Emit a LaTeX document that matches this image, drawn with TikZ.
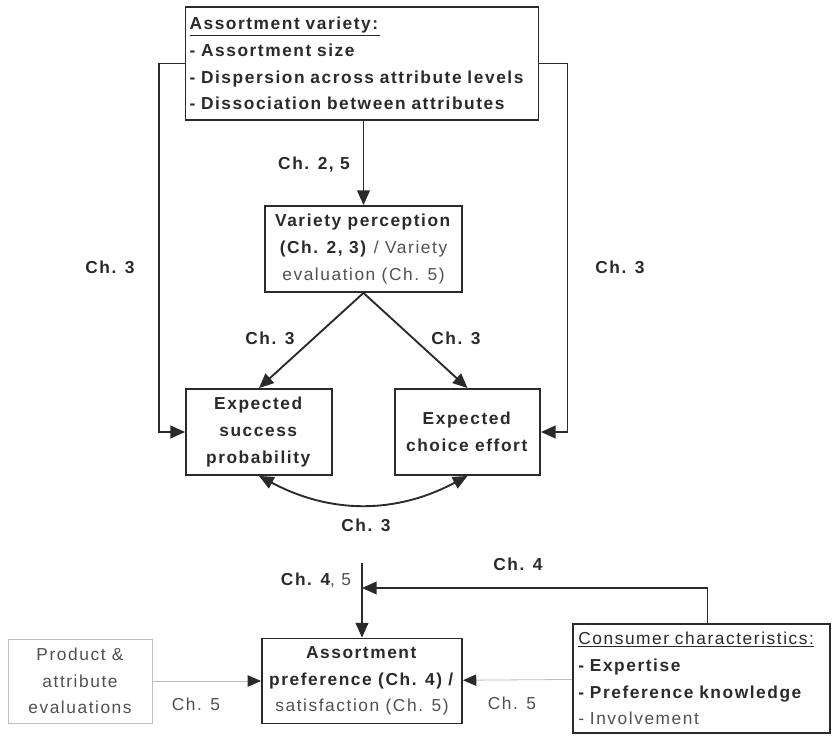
\documentclass[tikz,border=0pt]{standalone}
\usepackage{fontspec}
\setmainfont[LetterSpace=9]{Liberation Sans}
\usetikzlibrary{arrows.meta}
\definecolor{ink}{HTML}{2A2A2A}
\definecolor{soft}{HTML}{505050}
\definecolor{faint}{HTML}{BDBDBD}
\newcommand\lite[1]{\textcolor{soft}{\mdseries #1}}

\begin{document}
\begin{tikzpicture}[x=0.75pt,y=-0.75pt,
	every node/.style={text=ink,font=\fontsize{13pt}{20pt}\selectfont},
	box/.style={draw=ink,line width=1.4pt,align=center,inner sep=3pt},
	greybox/.style={draw=faint,line width=0.6pt,align=center,text=soft},
	arr/.style={draw=ink,line width=1.4pt,-{Triangle[length=11pt,width=9.5pt]}},
	thinarr/.style={draw=faint,line width=0.6pt,-{Triangle[length=10pt,width=8.5pt,color=ink]}},
	lab/.style={font=\bfseries\fontsize{13pt}{14pt}\selectfont}]

		\useasboundingbox (0,0) rectangle (833,737);

		% boxes
		\node[box,minimum width=264.75pt,minimum height=84.75pt,text width=258.75pt,align=left] (top) at (362,63.5)
			{\underline{\textbf{Assortment variety:}}\\ \textbf{- Assortment size}\\ \textbf{- Dispersion across attribute levels}\\ \textbf{- Dissociation between attributes}};
		\node[box,minimum width=147.75pt,minimum height=64.5pt] (var) at (363.5,249)
			{\textbf{Variety perception}\\ \textbf{(Ch. 2, 3)} \lite{/ Variety}\\ \lite{evaluation (Ch. 5)}};
		\node[box,minimum width=109.5pt,minimum height=64.5pt] (succ) at (259,432)
			{\textbf{Expected}\\ \textbf{success}\\ \textbf{probability}};
		\node[box,minimum width=108.75pt,minimum height=64.5pt] (eff) at (467.5,432)
			{\textbf{Expected}\\ \textbf{choice effort}};
		\node[box,minimum width=150pt,minimum height=63.75pt] (pref) at (362,681)
			{\textbf{Assortment}\\ \textbf{preference (Ch. 4) /}\\ \lite{satisfaction (Ch. 5)}};
		\node[greybox,minimum width=108pt,minimum height=63pt] (prod) at (80,681)
			{Product \&\\ attribute\\ evaluations};
		\node[box,minimum width=192.75pt,minimum height=81.75pt,text width=184.75pt,align=left,inner xsep=4pt] (cons) at (701.5,678.5)
			{\underline{Consumer characteristics:}\\ \textbf{- Expertise}\\ \textbf{- Preference knowledge}\\ \lite{- Involvement}};

		\coordinate (j) at (362,563);
		\coordinate (m) at (362,588);

		% arrows
		\draw[arr] (top.south -| var.north) -- (var.north);
		\draw[arr] (top.west) -- ++(-26,0) |- (succ.west);
		\draw[arr] (top.east) -- ++(28,0) |- (eff.east);
		\draw[arr] (var.south) -- (succ.north);
		\draw[arr] (var.south) -- (eff.north);
		\draw[arr,{Triangle[length=11pt,width=9.5pt]}-{Triangle[length=11pt,width=9.5pt]}] (succ.south) to[bend right=28] (eff.south);
		\draw[arr] (j) -- (pref.north);
		\draw[arr] ([xshift=4.5pt]cons.north) |- (m);
		\draw[thinarr] (prod) -- (pref);
		\draw[thinarr] (cons) -- (pref);

		% labels
		\node[lab] (l25) at (314,165) {Ch. 2, 5};
		\node[lab] (l3a) at (110,267) {Ch. 3};
		\node[lab] (l3b) at (620,267) {Ch. 3};
		\node[lab] (l3c) at (270,338) {Ch. 3};
		\node[lab] (l3d) at (456,338) {Ch. 3};
		\node[lab] (l3e) at (366,525) {Ch. 3};
		\node[lab] (l4) at (518,564) {Ch. 4};
		\node[lab] (l45) at (316,580) {Ch. 4\lite{, 5}};
		\node[font=\fontsize{13pt}{14pt}\selectfont,text=soft] (l5a) at (196,704) {Ch. 5};
		\node[font=\fontsize{13pt}{14pt}\selectfont,text=soft] (l5b) at (512,703) {Ch. 5};

\end{tikzpicture}
\end{document}
